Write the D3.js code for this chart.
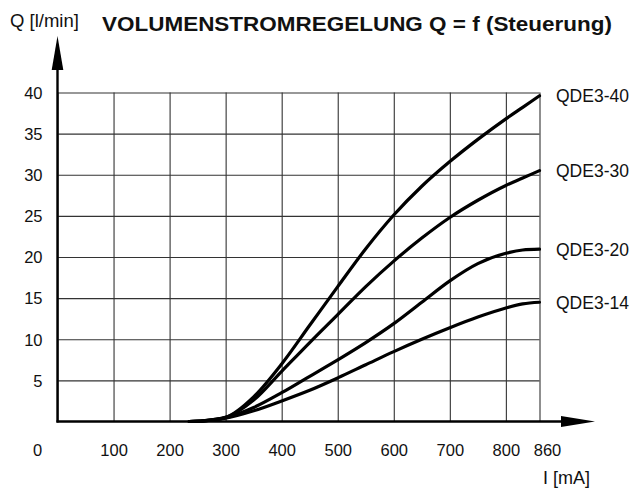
<!DOCTYPE html>
<html>
<head>
<meta charset="utf-8">
<script src="https://cdn.jsdelivr.net/npm/d3@7"></script>
<style>
  html, body { margin: 0; padding: 0; background: #fff; }
  svg { display: block; font-family: "Liberation Sans", Arial, sans-serif; }
</style>
</head>
<body>
<svg id="chart" width="638" height="491"></svg>
<script>
// ---- data ----
const current = [235, 260, 300, 350, 400, 450, 500, 550, 600, 650, 700, 750, 800, 830, 860];
const qde40 = [0, 0.08, 0.5, 3.0, 7.0, 11.7, 16.4, 21.0, 25.1, 28.6, 31.6, 34.3, 36.8, 38.2, 39.6];
const qde30 = [0, 0.08, 0.5, 2.6, 6.1, 9.6, 13.0, 16.4, 19.5, 22.3, 24.8, 26.9, 28.7, 29.6, 30.5];
const qde20 = [0, 0.07, 0.45, 1.7, 3.5, 5.5, 7.5, 9.6, 11.9, 14.5, 17.1, 19.2, 20.45, 20.85, 20.95];
const qde14 = [0, 0.06, 0.4, 1.3, 2.5, 3.8, 5.3, 6.9, 8.5, 10.0, 11.4, 12.7, 13.8, 14.3, 14.5];
const seriesNames = ["QDE3-40", "QDE3-30", "QDE3-20", "QDE3-14"];
const seriesValues = [qde40, qde30, qde20, qde14];
const xTicks = [0, 100, 200, 300, 400, 500, 600, 700, 800, 860];
const yTicks = [5, 10, 15, 20, 25, 30, 35, 40];
const titleText = "VOLUMENSTROMREGELUNG Q = f (Steuerung)";
const yAxisTitle = "Q [l/min]";
const xAxisTitle = "I [mA]";

// ---- layout ----
const svg = d3.select("#chart");
const x = d3.scaleLinear().domain([0, 860]).range([57.5, 539.5]);
const y = d3.scaleLinear().domain([0, 40]).range([421.5, 92.5]);

// grid: horizontal lines via axisLeft
const gy = svg.append("g")
  .attr("transform", `translate(${x(0)},0)`)
  .call(d3.axisLeft(y).tickValues(yTicks).tickSize(-(x(860) - x(0))).tickSizeOuter(0));
gy.select(".domain").remove();
gy.selectAll(".tick line").attr("stroke", "#333").attr("stroke-width", 1.1);
gy.selectAll(".tick text")
  .attr("x", -15).attr("dy", "0.35em")
  .attr("fill", "#111").style("font-size", "16.5px")
  .style("font-family", "'Liberation Sans', Arial, sans-serif");

// grid: vertical lines via axisBottom
const gx = svg.append("g")
  .attr("transform", `translate(0,${y(0)})`)
  .call(d3.axisBottom(x).tickValues(xTicks).tickSize(-(y(0) - y(40))).tickSizeOuter(0).tickFormat(d3.format("d")));
gx.select(".domain").remove();
gx.selectAll(".tick line").attr("stroke", "#333").attr("stroke-width", 1.1);
gx.selectAll(".tick text")
  .attr("y", 34.5).attr("dy", 0)
  .attr("dx", d => d === 0 ? -20.5 : d === 860 ? 7.5 : 0)
  .attr("fill", "#111").style("font-size", "16.5px")
  .style("font-family", "'Liberation Sans', Arial, sans-serif");

// axes with arrows
svg.append("line")
  .attr("x1", x(0)).attr("x2", x(0)).attr("y1", y(0) + 1).attr("y2", 64)
  .attr("stroke", "#000").attr("stroke-width", 2.4);
svg.append("path")
  .attr("d", `M${x(0)},36 L${x(0) + 5.8},70 L${x(0) - 5.8},70 Z`)
  .attr("fill", "#000");
svg.append("line")
  .attr("x1", x(0) - 1).attr("x2", 566).attr("y1", y(0)).attr("y2", y(0))
  .attr("stroke", "#000").attr("stroke-width", 2.4);
svg.append("path")
  .attr("d", `M595,${y(0)} L561,${y(0) - 5.5} L561,${y(0) + 5.5} Z`)
  .attr("fill", "#000");

// curves
const line = d3.line()
  .x((d, i) => x(current[i]))
  .y(d => y(d))
  .curve(d3.curveMonotoneX);

seriesValues.forEach((vals, k) => {
  svg.append("path")
    .datum(vals)
    .attr("d", line)
    .attr("fill", "none")
    .attr("stroke", "#000")
    .attr("stroke-width", 3.2)
    .attr("stroke-linecap", "round");
  svg.append("text")
    .attr("x", 556)
    .attr("y", y(vals[vals.length - 1]) + 6.5)
    .attr("fill", "#111")
    .style("font-size", "17.5px")
    .text(seriesNames[k]);
});

// titles
svg.append("text")
  .attr("x", 10).attr("y", 26.5)
  .attr("fill", "#111").style("font-size", "18.5px")
  .text(yAxisTitle);
svg.append("text")
  .attr("x", 102).attr("y", 31)
  .attr("fill", "#111").style("font-size", "19.5px").style("font-weight", "bold")
  .attr("textLength", 510).attr("lengthAdjust", "spacingAndGlyphs")
  .text(titleText);
svg.append("text")
  .attr("x", 543).attr("y", 484)
  .attr("fill", "#111").style("font-size", "18px")
  .text(xAxisTitle);
</script>
</body>
</html>
